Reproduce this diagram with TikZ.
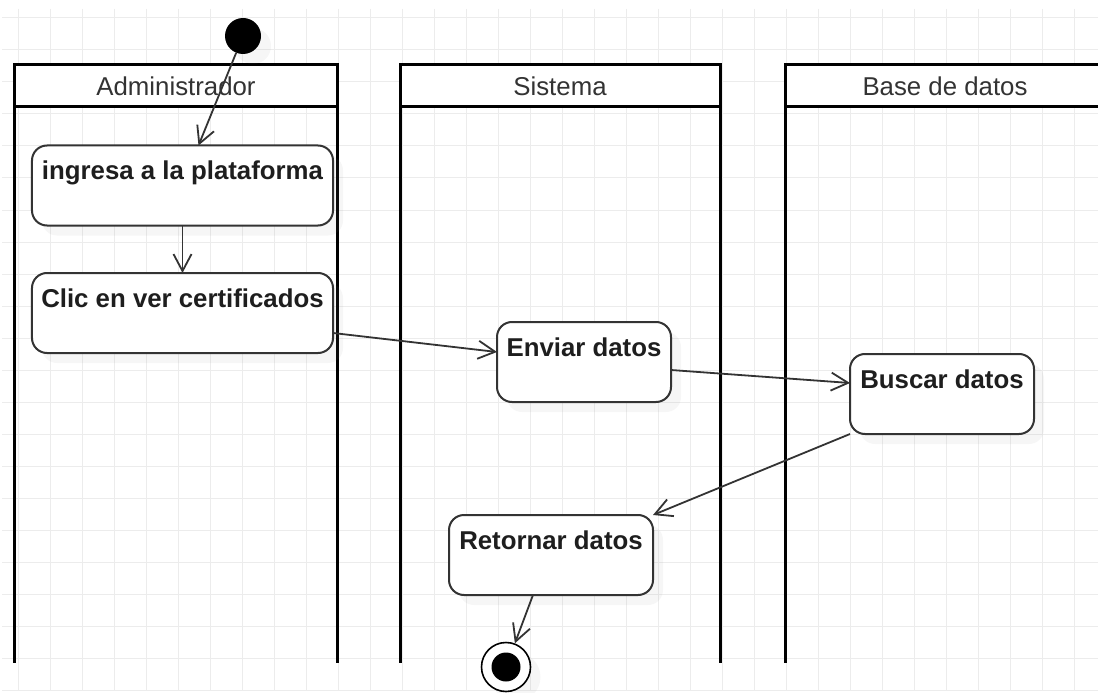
\documentclass[tikz,border=0pt]{standalone}
\usepackage{fontspec}
\setmainfont{Liberation Sans}
\usepackage{tikz}
\usetikzlibrary{arrows.meta, shadows}
\definecolor{gridgray}{RGB}{236, 236, 236}
\definecolor{linegray}{RGB}{51, 51, 51}
\definecolor{textgray}{RGB}{30, 30, 30}
\definecolor{headgray}{RGB}{51, 51, 51}

\begin{document}
\begin{tikzpicture}[
    x=1bp, y=-1bp,
    gridline/.style={draw=gridgray, line width=1bp},
    lane/.style={rectangle, draw=black, fill=white, line width=3bp, outer sep=0pt, inner sep=0pt, minimum height=42bp, text=headgray, font=\fontsize{25.8bp}{30bp}\selectfont},
    laneline/.style={draw=black, line width=3bp},
    softshadow/.style={drop shadow={shadow xshift=10bp, shadow yshift=-10bp, opacity=0.07}},
    action/.style={rectangle, rounded corners=15bp, draw=linegray, fill=white, line width=2bp, inner sep=0pt, outer sep=0pt, text height=34.5bp, text depth=45.5bp, text=textgray, font=\bfseries\fontsize{25.8bp}{30bp}\selectfont, softshadow},
    startdot/.style={circle, fill=black, minimum size=36bp, inner sep=0pt, softshadow},
    enddot/.style={circle, draw=black, fill=white, line width=1.6bp, minimum size=49bp, inner sep=0pt, softshadow, path picture={\fill[black] (path picture bounding box.center) circle (14.5bp);}},
    flow/.style={draw=linegray, line width=1.8bp, -{Straight Barb[length=17bp, width=18bp]}}
]
\clip (0,0) rectangle (1098,693);
\fill[white] (0,0) rectangle (1098,693);

% Grid
\foreach \gx in {18,50,...,1074} \draw[gridline] (\gx,9) -- (\gx,690);
\foreach \gy in {18,50,...,690} \draw[gridline] (2,\gy) -- (1098,\gy);

% Swimlanes
\node[lane, minimum width=322bp] (admin) at (176,86) {Administrador};
\node[lane, minimum width=320bp] (sistema) at (560,86) {Sistema};
\node[lane, minimum width=320bp] (bd) at (945,86) {Base de datos};
\foreach \l in {admin, sistema, bd} {
  \draw[laneline] (\l.north west) -- (\l.north west |- 0,663);
  \draw[laneline] (\l.north east) -- (\l.north east |- 0,663);
}

% Start and end
\node[startdot] (inicio) at (243,36) {};
\node[enddot] (fin) at (506,667) {};

% Actions
\node[action, minimum width=301bp] (ingresa) at (182.5,185.5) {ingresa a la plataforma};
\node[action, minimum width=301bp] (clic) at (182.5,313) {Clic en ver certificados};
\node[action, minimum width=174bp] (enviar) at (584,362) {Enviar datos};
\node[action, minimum width=184bp] (buscar) at (942,394) {Buscar datos};
\node[action, minimum width=204bp] (retornar) at (551,555) {Retornar datos};

% Flows
\draw[flow] (inicio) -- ([xshift=16bp]ingresa.north);
\draw[flow] (ingresa) -- (clic);
\draw[flow] ([yshift=-20bp]clic.east) -- ([yshift=10bp]enviar.west);
\draw[flow] ([yshift=-8bp]enviar.east) -- ([yshift=11bp]buscar.west);
\draw[flow] (buscar.south west) -- (retornar.north east);
\draw[flow] ([xshift=-18bp]retornar.south) -- (fin);
\end{tikzpicture}
\end{document}
